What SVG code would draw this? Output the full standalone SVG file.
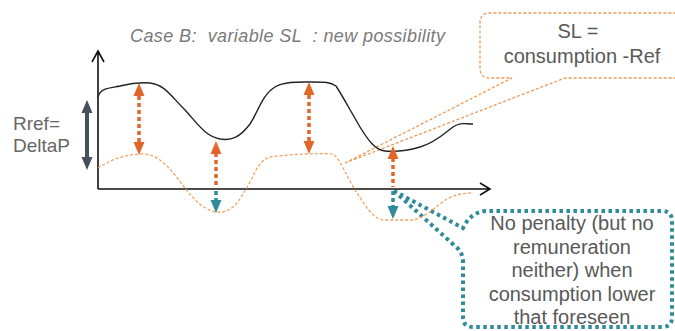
<svg xmlns="http://www.w3.org/2000/svg" width="675" height="331" viewBox="0 0 675 331">
<style>
.title{font-family:"Liberation Sans",Arial,sans-serif;font-style:italic;font-size:18px;fill:#7a7a7a;white-space:pre}
.lbl{font-family:"Liberation Sans",Arial,sans-serif;font-size:19px;fill:#666}
.box{font-family:"Liberation Sans",Arial,sans-serif;font-size:20px;fill:#595959;text-anchor:middle}
.axis{stroke:#111;stroke-width:1.6;fill:none}
.curve{stroke:#222;stroke-width:1.4;fill:none}
.ref{stroke:#EFA461;stroke-width:1.3;stroke-dasharray:3 2;fill:none}
.osh{stroke:#E2662A;stroke-width:3.5;stroke-dasharray:4 3;fill:none}
.tsh{stroke:#2F8A99;stroke-width:3.5;stroke-dasharray:4 3;fill:none}
.oh{fill:#E2662A}
.th{fill:#2F8A99}
</style>
<rect width="675" height="331" fill="#fff"/>
<g id="sl-callout">
<path d="M345,163 L512,78 H490 Q480,78 480,68 V23 Q480,13 490,13 H700 V78 H565 Z" fill="#fff" stroke="#E99A55" stroke-width="1.3" stroke-dasharray="3 2"/>
<text class="box" x="578" y="38">SL =</text>
<text class="box" x="582" y="63">consumption -Ref</text>
</g>
<g id="penalty-callout">
<path d="M394,191 L455,246 Q463,252 463,262 V317 Q463,327 473,327 H662 Q672,327 672,317 V221 Q672,211 662,211 H485 Q470,213 463,228 Z" fill="#fff" stroke="#2F8A99" stroke-width="4" stroke-dasharray="3.5 3.5"/>
<text class="box" x="572" y="230">No penalty (but no</text>
<text class="box" x="572" y="253.5">remuneration</text>
<text class="box" x="572" y="277">neither) when</text>
<text class="box" x="572" y="300.5">consumption lower</text>
<text class="box" x="572" y="324">that foreseen</text>
</g>
<g id="title"><text class="title" x="130" y="42" xml:space="preserve" textLength="315" lengthAdjust="spacing">Case B:  variable SL  : new possibility</text></g>
<g id="axes">
<path class="axis" d="M98,189 V51 M92,62 L98,51 L104,62"/>
<path class="axis" d="M98,189 H490 M480,183 L490,189 L480,195"/>
</g>
<g id="rref">
<path d="M87,112 V158" stroke="#46505A" stroke-width="4" fill="none"/>
<polygon points="87,100 81.5,113 92.5,113" fill="#46505A"/>
<polygon points="87,170 81.5,157 92.5,157" fill="#46505A"/>
<text class="lbl" x="13" y="130">Rref=</text>
<text class="lbl" x="13" y="152">DeltaP</text>
</g>
<g id="consumption">
<path class="curve" d="M98,97 C100,88 110,88 120,86 C128,84 135,82 150,83 C165,85 170,95 185,110 C198,124 205,136 220,139 C232,141 240,137 250,124 C258,112 262,95 275,87 C285,81 300,82 313,82 C325,82 330,82 336,86 C342,95 350,110 360,127 C368,140 375,150 385,151 C395,152 410,150 420,147 C435,143 445,133 453,127 C460,122 465,124 473,124"/>
</g>
<g id="reference">
<path class="ref" d="M98,168 C108,162 120,155 140,154 C155,153 165,163 175,175 C188,192 200,210 217,212 C232,214 240,200 250,182 C256,170 260,160 270,157 C290,154 320,153 333,154 C340,158 348,180 357,193 C365,205 372,218 383,220 L413,220 C425,218 437,205 447,199 C455,195 462,193 472,193"/>
</g>
<g id="connectors">
<g id="arrow1">
<path class="osh" d="M139,96 V143"/>
<polygon class="oh" points="139,83 133.5,96 144.5,96"/>
<polygon class="oh" points="139,155 133.5,142 144.5,142"/>
</g>
<g id="arrow2">
<path class="osh" d="M309,95 V142"/>
<polygon class="oh" points="309,82 303.5,95 314.5,95"/>
<polygon class="oh" points="309,154 303.5,141 314.5,141"/>
</g>
<g id="arrow3">
<path class="osh" d="M216,153 V187"/>
<path class="tsh" d="M216,191 V202"/>
<polygon class="oh" points="216,141 210.5,154 221.5,154"/>
<polygon class="th" points="216,213 210.5,200 221.5,200"/>
</g>
<g id="arrow4">
<path class="osh" d="M393,158 V187"/>
<path class="tsh" d="M393,191 V208"/>
<polygon class="oh" points="393,146 387.5,159 398.5,159"/>
<polygon class="th" points="393,219 387.5,206 398.5,206"/>
</g>
</g>
</svg>
